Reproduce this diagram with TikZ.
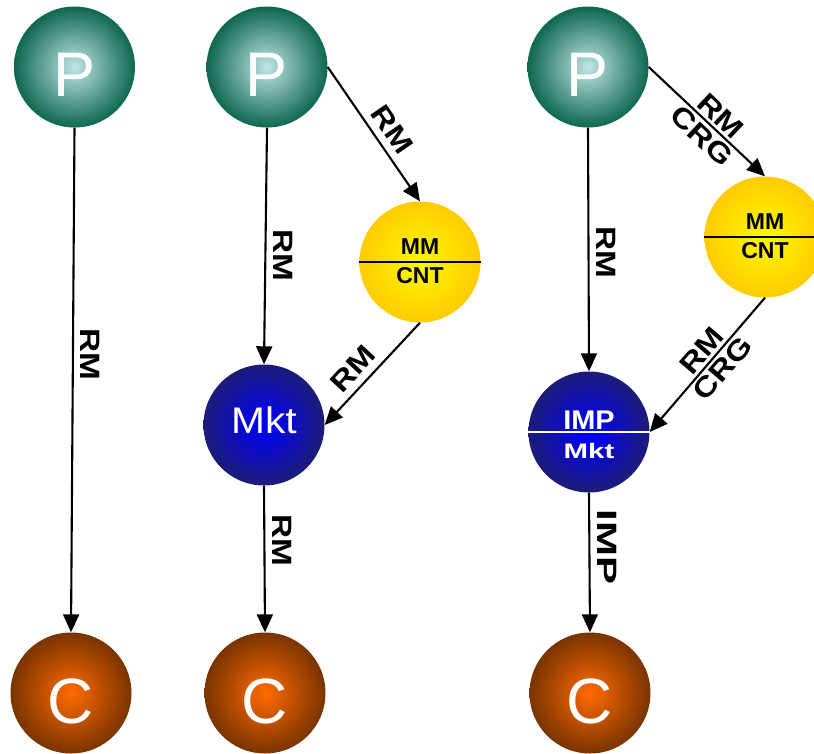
\documentclass[tikz,border=0pt]{standalone}
\usepackage{fontspec}
\setmainfont{Liberation Sans}
\usepackage{graphicx}
\usetikzlibrary{arrows.meta}
\definecolor{pOut}{RGB}{14,104,80}
\definecolor{pIn}{RGB}{192,228,228}
\definecolor{yOut}{RGB}{255,204,0}
\definecolor{yIn}{RGB}{255,248,0}
\definecolor{bOut}{RGB}{28,28,120}
\definecolor{bIn}{RGB}{0,0,255}
\definecolor{oOut}{RGB}{122,52,0}
\definecolor{oIn}{RGB}{255,106,0}
\begin{document}
\begin{tikzpicture}[x=1pt,y=-1pt,
  ball/.style={circle, minimum size=121pt, inner sep=0pt, text=white},
  pball/.style={ball, inner color=pIn, outer color=pOut,
    font=\fontsize{63}{63}\selectfont, text height=59pt, text depth=0pt},
  cball/.style={ball, inner color=oIn, outer color=oOut,
    font=\fontsize{64}{64}\selectfont, text height=60pt, text depth=0pt},
  yball/.style={ball, inner color=yIn, outer color=yOut},
  bball/.style={ball, inner color=bIn, outer color=bOut},
  mkttxt/.style={font=\fontsize{37}{37}\selectfont, text height=26.5pt, text depth=10pt},
  intxt/.style={inner sep=0pt, font=\bfseries\fontsize{23}{23}\selectfont},
  divider/.style={line width=2.2pt},
  arr/.style={line width=2.1pt, -{Triangle[length=18pt,width=16pt]}},
  lbl/.style={font=\bfseries\fontsize{28}{28}\selectfont, inner sep=7pt},
  lbl2/.style={font=\bfseries\fontsize{28}{28}\selectfont, inner sep=3pt},
]
\useasboundingbox (0,0) rectangle (814,753);
\clip (0,0) rectangle (814,753);

% nodes
\node[pball] (P1) at (74.5,67) {P};
\node[pball] (P2) at (267,67) {P};
\node[pball] (P3) at (588,67) {P};
\node[yball] (MM1) at (420,262) {};
\node[yball] (MM2) at (765,237) {};
\node[bball, mkttxt] (Mkt) at (264,425) {\scalebox{1.1}[1]{Mkt}};
\node[bball] (IMP) at (589,432) {};
\node[cball] (C1) at (71,693) {C};
\node[cball] (C2) at (265,693) {C};
\node[cball] (C3) at (590,693) {C};

% split circles
\draw[divider] (MM1.west) -- (MM1.east);
\node[intxt] (MM1a) at ([yshift=15pt]MM1.center) {MM};
\node[intxt] (MM1b) at ([yshift=-14pt]MM1.center) {CNT};
\draw[divider] (MM2.west) -- (MM2.east);
\node[intxt] (MM2a) at ([yshift=15pt]MM2.center) {MM};
\node[intxt] (MM2b) at ([yshift=-14pt]MM2.center) {CNT};
\draw[divider, white] (IMP.west) -- (IMP.east);
\node[intxt, text=white, font=\bfseries\fontsize{27}{27}\selectfont] (IMPa) at ([yshift=12pt]IMP.center) {\scalebox{1.07}[1]{IMP}};
\node[intxt, text=white, font=\bfseries\fontsize{21}{21}\selectfont] (IMPb) at ([yshift=-19pt]IMP.center) {\scalebox{1.4}[1]{Mkt}};

% connectors
\draw[arr] (P1.south) -- (C1.north)
  node[lbl, pos=0.45, rotate=-90, anchor=south] {\scalebox{1.19}[1]{RM}};
\draw[arr] (P2.south) -- (Mkt.north)
  node[lbl, pos=0.54, rotate=-90, anchor=south] {\scalebox{1.19}[1]{RM}};
\draw[arr] (P2.east) -- (MM1.north)
  node[lbl, pos=0.54, rotate=-55.5, anchor=south] {\scalebox{1.19}[1]{RM}};
\draw[arr] (MM1.south) -- (Mkt.east)
  node[lbl, pos=0.57, rotate=47.2, anchor=south] {\scalebox{1.19}[1]{RM}};
\draw[arr] (Mkt.south) -- (C2.north)
  node[lbl, pos=0.37, rotate=-90, anchor=south] {\scalebox{1.19}[1]{RM}};
\draw[arr] (P3.east) -- (MM2.north)
  node[lbl2, pos=0.54, rotate=-43.2, anchor=south] {\scalebox{1.19}[1]{RM}}
  node[lbl2, pos=0.54, rotate=-43.2, anchor=north] {\scalebox{1.19}[1]{CRG}};
\draw[arr] (P3.south) -- (IMP.north)
  node[lbl, pos=0.51, rotate=-90, anchor=south] {\scalebox{1.19}[1]{RM}};
\draw[arr] (MM2.south) -- (IMP.east)
  node[lbl2, pos=0.46, rotate=49.35, anchor=south] {\scalebox{1.19}[1]{RM}}
  node[lbl2, pos=0.46, rotate=49.35, anchor=north] {\scalebox{1.19}[1]{CRG}};
\draw[arr] (IMP.south) -- (C3.north)
  node[lbl, pos=0.39, rotate=-90, anchor=south] {\scalebox{1.5}[1]{IMP}};
\end{tikzpicture}
\end{document}
